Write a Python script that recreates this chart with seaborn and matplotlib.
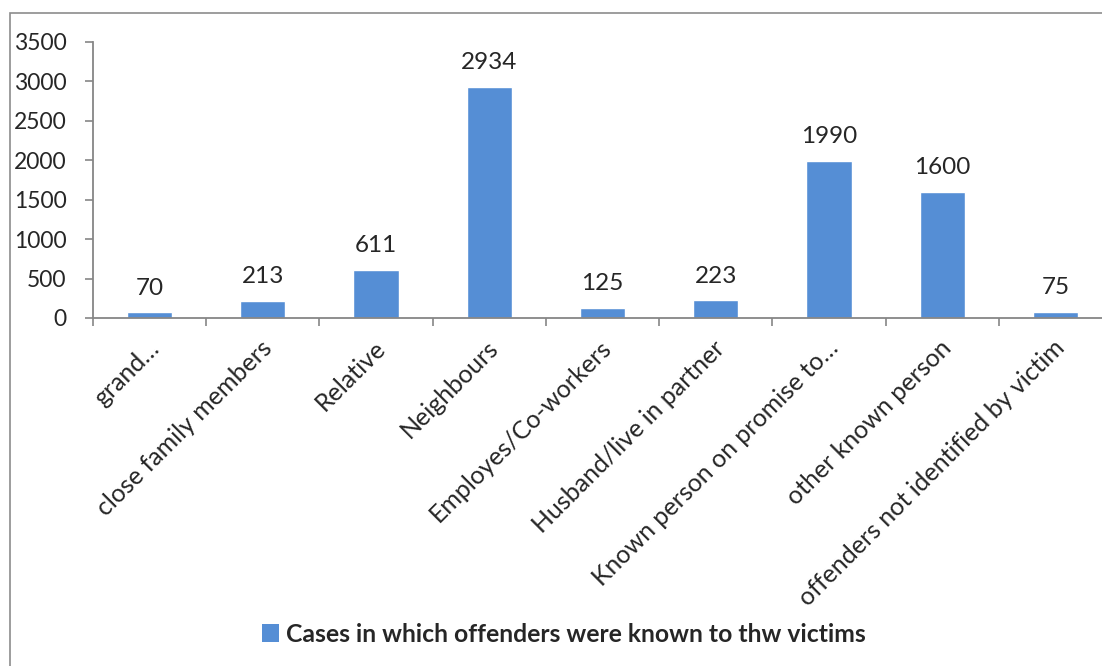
import numpy as np
import pandas as pd
import seaborn as sns
import matplotlib
matplotlib.use("Agg")
import matplotlib.pyplot as plt
from matplotlib.patches import Rectangle, Patch
from matplotlib.transforms import ScaledTranslation

categories = [
    "grand…",
    "close family members",
    "Relative",
    "Neighbours",
    "Employes/Co-workers",
    "Husband/live in partner",
    "Known person on promise to…",
    "other known person",
    "offenders not identified by victim",
]
cases = [70, 213, 611, 2934, 125, 223, 1990, 1600, 75]
series_name = "Cases in which offenders were known to thw victims"
y_ticks = [0, 500, 1000, 1500, 2000, 2500, 3000, 3500]

sns.set_style("white")
plt.rcParams["font.family"] = ["Lato", "DejaVu Sans"]
FS = 18

W, H = 1102, 666
fig = plt.figure(figsize=(W / 100, H / 100), dpi=100)

# outer chart frame
fig.patches.append(Rectangle((10 / W, -0.1), 1.2, 1 - 13 / H + 0.1,
                             transform=fig.transFigure, fill=False,
                             edgecolor="#8c8c8c", linewidth=1.2))

ax_left, ax_right = 93, 1112
ax_top, ax_bottom = 42, 318
ax = fig.add_axes([ax_left / W, 1 - ax_bottom / H,
                   (ax_right - ax_left) / W, (ax_bottom - ax_top) / H])

df = pd.DataFrame({"category": categories, "cases": cases})
bar_color = "#558ED5"
sns.barplot(data=df, x="category", y="cases", color=bar_color, width=0.4,
            saturation=1, ax=ax)

for c in ax.containers:
    ax.bar_label(c, labels=[str(v) for v in cases], padding=10, fontsize=17.5)

ax.set_ylim(0, 3500)
ax.set_xlim(-0.5, len(categories) - 0.5)
ax.set_yticks(y_ticks)
ax.set_xlabel("")
ax.set_ylabel("")

for s in ["top", "right"]:
    ax.spines[s].set_visible(False)
for s in ["left", "bottom"]:
    ax.spines[s].set_color("#868686")
    ax.spines[s].set_linewidth(1.3)

ax.tick_params(axis="y", direction="out", length=6, width=1.2, color="#868686",
               pad=13, labelsize=16.5, left=True)
ax.tick_params(axis="x", which="major", length=0, labelsize=FS, pad=2)
ax.set_xticks(np.arange(-0.5, len(categories), 1), minor=True)
ax.tick_params(axis="x", which="minor", direction="out", length=6, width=1.2,
               color="#868686", bottom=True)

offset = ScaledTranslation(4 / 72, -17 / 72, fig.dpi_scale_trans)
for lbl in ax.get_xticklabels():
    lbl.set_rotation(45)
    lbl.set_ha("right")
    lbl.set_va("center")
    lbl.set_rotation_mode("anchor")
    lbl.set_transform(lbl.get_transform() + offset)

handle = Patch(facecolor=bar_color, edgecolor="none")
fig.legend([handle], [series_name], loc="center",
           bbox_to_anchor=(564 / W, 1 - 634 / H), frameon=False,
           prop={"weight": "bold", "size": 17.8}, handlelength=0.7,
           handleheight=0.7, handletextpad=0.3)

fig.savefig("out.png", dpi=100)
